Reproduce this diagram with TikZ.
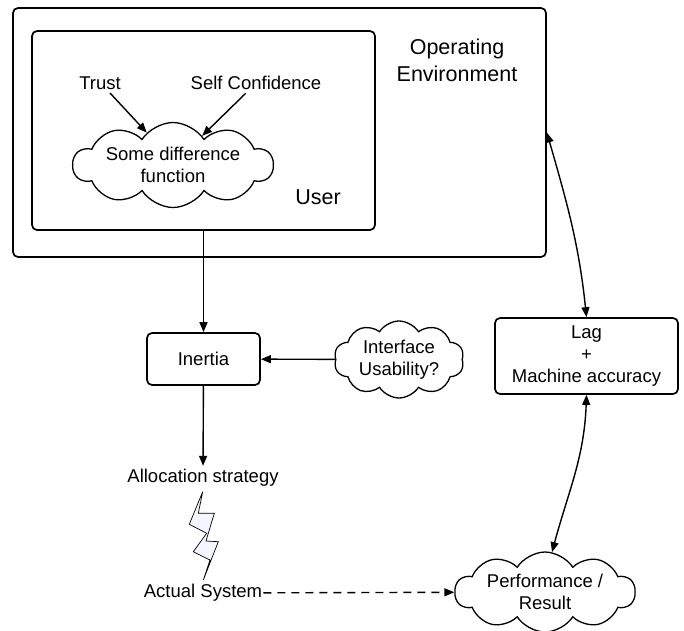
\documentclass[tikz,border=0pt]{standalone}
\usepackage{fontspec}
\setmainfont{Liberation Sans}
\usetikzlibrary{shapes.symbols, arrows.meta}
\definecolor{boltfill}{RGB}{243,245,255}

\begin{document}
\begin{tikzpicture}[x=1pt, y=1pt,
    every node/.style={font=\fontsize{18.5}{22}\selectfont, align=center},
    big/.style={font=\fontsize{21.5}{27}\selectfont},
    box/.style={draw, line width=1.7pt, rounded corners=5pt, inner sep=0pt},
    puff/.style={draw, line width=1.3pt, cloud, cloud puffs=10, cloud puff arc=115, cloud ignores aspect, inner sep=0pt},
    arr/.style={line width=1.4pt, -{Triangle[length=10pt, width=8pt]}},
    dbl/.style={line width=1.4pt, {Triangle[length=10pt, width=8pt]}-{Triangle[length=10pt, width=8pt]}}]
    \useasboundingbox (0,0) rectangle (684,-630);
    \node[box, minimum width=533pt, minimum height=249pt] (env) at (279.5,-132.5) {};
    \node[big] (envlabel) at (457,-60) {Operating\\Environment};
    \node[box, minimum width=343pt, minimum height=199pt] (user) at (203.5,-130.5) {};
    \node[big] (userlabel) at (318,-197) {User};
    \node (trust) at (100,-83) {Trust};
    \node (conf) at (256,-83) {Self Confidence};
    \node[puff, minimum width=200pt, minimum height=85pt] (diff) at (173,-165) {Some difference\\function};
    \node[box, minimum width=113pt, minimum height=52pt] (inertia) at (203.5,-359) {Inertia};
    \node[puff, minimum width=130pt, minimum height=77pt] (iface) at (399,-359.5) {Interface\\Usability?};
    \node[box, minimum width=183pt, minimum height=76pt] (lag) at (586.5,-356) {Lag\\+\\Machine accuracy};
    \node (alloc) at (203,-478) {Allocation strategy};
    \node[inner xsep=1pt] (actual) at (203,-593) {Actual System};
    \node[puff, minimum width=180pt, minimum height=80pt] (perf) at (545,-592) {Performance /\\Result};
    \draw[line width=0.7pt, fill=boltfill] (202.7,-491.7) -- (198.3,-513.3) -- (214.3,-513.3) -- (206,-541) -- (218.3,-541.7) -- (203.3,-580) -- (210,-560) -- (193.3,-551.7) -- (206.7,-533.3) -- (189.3,-524.3) -- cycle;
    \draw[arr] (trust.-45) -- (diff.129);
    \draw[arr] (conf.-135) -- (diff.45);
    \draw[arr] (user) -- (inertia);
    \draw[arr] (iface) -- (inertia);
    \draw[arr] (inertia) -- (alloc);
    \draw[arr, dash pattern=on 8pt off 6pt] (actual) -- (perf);
    \draw[dbl] (env.east) to[out=-74, in=96] (lag.north);
    \draw[dbl] (lag.south) to[out=-92, in=75] (perf.80);
\end{tikzpicture}
\end{document}
